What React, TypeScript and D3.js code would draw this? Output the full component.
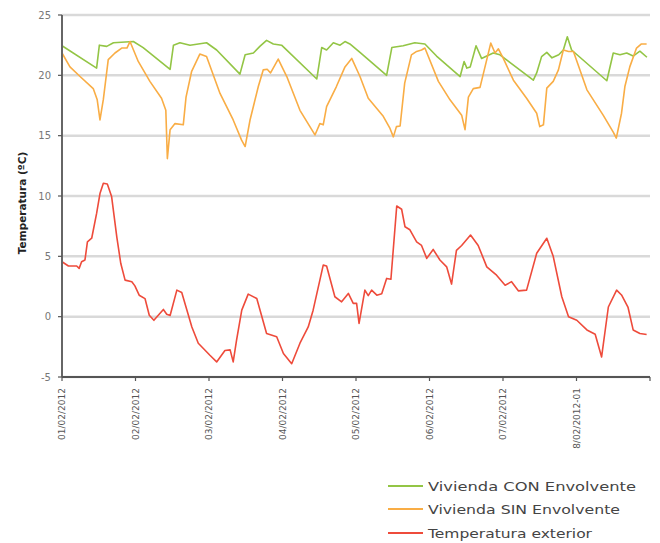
import React from "react";
import * as d3 from "d3";

// Hours since 01/02/2012 00:00 and temperatures (°C)
const conHours = [0, 11.3, 12.2, 14.6, 16.8, 23.3, 26.5, 35.3, 36.4, 38.5, 41.8, 47.2, 50.5, 58.1, 59.8, 62.5, 64.6, 66.8, 69.0, 71.7, 83.2, 84.8, 86.4, 88.6, 90.8, 92.4, 94.0, 97.3, 106.0, 107.7, 111.4, 115.2, 118.5, 122.3, 130.0, 131.3, 132.2, 133.3, 135.2, 137.0, 138.7, 140.8, 143.0, 153.9, 155.0, 156.6, 158.3, 160.0, 162.2, 163.7, 165.0, 166.4, 177.9, 180.0, 182.2, 184.4, 186.5, 188.7, 191];
const conValues = [22.45, 20.6, 22.5, 22.4, 22.7, 22.8, 22.3, 20.5, 22.5, 22.7, 22.5, 22.7, 22.1, 20.1, 21.7, 21.85, 22.4, 22.9, 22.6, 22.5, 19.7, 22.3, 22.1, 22.7, 22.5, 22.8, 22.6, 21.9, 20.0, 22.3, 22.45, 22.7, 22.6, 21.6, 19.9, 21.15, 20.6, 20.7, 22.45, 21.4, 21.6, 21.85, 21.7, 19.6, 20.2, 21.55, 21.9, 21.45, 21.7, 22.1, 23.2, 22.1, 19.55, 21.85, 21.7, 21.85, 21.6, 22.0, 21.5];

const sinHours = [0, 2.6, 5.9, 10.2, 11.5, 12.4, 13.5, 15.1, 17.3, 19.5, 21.2, 22.2, 24.9, 28.7, 32.5, 33.9, 34.4, 35.3, 36.9, 39.6, 40.5, 42.3, 45.0, 47.2, 51.6, 55.9, 58.6, 59.8, 61.4, 64.1, 65.7, 67.0, 68.1, 70.6, 73.4, 77.7, 82.6, 84.2, 85.3, 86.4, 89.6, 92.4, 94.6, 97.3, 100.0, 104.9, 107.1, 108.2, 109.2, 110.4, 111.9, 114.1, 115.8, 117.4, 118.5, 122.9, 126.7, 130.5, 131.6, 132.7, 134.3, 136.5, 138.7, 140.0, 141.4, 142.5, 144.1, 147.4, 151.7, 155.0, 156.0, 157.2, 158.3, 160.4, 162.1, 163.7, 165.4, 167.0, 171.4, 176.7, 180.0, 181.0, 182.7, 183.8, 185.4, 187.6, 189.2, 190.9];
const sinValues = [21.85, 20.7, 19.9, 18.9, 17.97, 16.3, 18.0, 21.3, 21.85, 22.26, 22.26, 22.8, 21.15, 19.5, 18.1, 17.1, 13.1, 15.5, 16.0, 15.9, 18.2, 20.3, 21.76, 21.56, 18.5, 16.3, 14.65, 14.1, 16.3, 19.07, 20.45, 20.5, 20.2, 21.35, 19.9, 17.1, 15.06, 16.0, 15.9, 17.4, 19.07, 20.7, 21.4, 19.9, 18.1, 16.6, 15.6, 14.9, 15.75, 15.8, 19.35, 21.7, 21.98, 22.1, 22.26, 19.5, 17.97, 16.7, 15.5, 18.2, 18.9, 19.0, 21.3, 22.67, 21.85, 22.2, 21.4, 19.6, 18.1, 16.86, 15.75, 15.9, 18.94, 19.5, 20.45, 22.1, 21.98, 21.98, 18.8, 16.7, 15.3, 14.8, 16.86, 19.07, 20.7, 22.26, 22.6, 22.6];

const extHours = [0, 2.1, 4.8, 5.6, 6.4, 7.5, 8.3, 9.7, 11.3, 12.4, 13.5, 14.8, 16.2, 17.9, 19.2, 20.6, 22.8, 23.8, 25.2, 27.1, 28.5, 30.0, 33.1, 34.2, 35.3, 37.5, 39.1, 42.4, 44.5, 48.3, 50.5, 53.2, 54.9, 55.9, 57.0, 58.7, 60.8, 63.6, 66.8, 70.1, 72.3, 75.0, 77.7, 80.4, 82.0, 85.3, 86.4, 89.1, 91.3, 93.5, 95.1, 96.2, 97.0, 98.9, 100.0, 101.1, 102.8, 104.4, 106.0, 107.4, 109.3, 110.9, 112.0, 113.6, 115.8, 117.4, 119.1, 121.2, 123.4, 125.6, 127.2, 128.8, 130.5, 133.4, 135.9, 138.7, 141.9, 144.7, 146.8, 149.0, 151.7, 155.0, 158.3, 160.4, 163.2, 165.4, 168.1, 171.4, 174.1, 176.2, 178.4, 181.1, 182.7, 184.8, 186.5, 188.7, 190.9];
const extValues = [4.55, 4.2, 4.2, 4.0, 4.55, 4.7, 6.2, 6.5, 8.56, 10.2, 11.05, 11.0, 9.95, 6.6, 4.4, 3.03, 2.9, 2.55, 1.78, 1.5, 0.12, -0.3, 0.6, 0.2, 0.1, 2.2, 2.0, -0.85, -2.2, -3.2, -3.75, -2.8, -2.75, -3.75, -1.95, 0.54, 1.87, 1.5, -1.4, -1.67, -3.05, -3.9, -2.2, -0.85, 0.54, 4.27, 4.2, 1.65, 1.23, 1.93, 1.1, 1.1, -0.56, 2.2, 1.75, 2.2, 1.78, 1.9, 3.17, 3.1, 9.17, 8.9, 7.45, 7.2, 6.2, 5.9, 4.83, 5.57, 4.7, 4.13, 2.7, 5.5, 5.9, 6.76, 5.9, 4.13, 3.44, 2.6, 2.9, 2.14, 2.2, 5.25, 6.5, 5.0, 1.65, 0.0, -0.3, -1.1, -1.45, -3.34, 0.8, 2.2, 1.8, 0.8, -1.1, -1.4, -1.48];

const dayTicks = [0, 24, 48, 72, 96, 120, 144, 168, 192];
const dayLabels = ["01/02/2012", "02/02/2012", "03/02/2012", "04/02/2012", "05/02/2012", "06/02/2012", "07/02/2012", "8/02/2012-01", ""];
const yTicks = [-5, 0, 5, 10, 15, 20, 25];

const seriesNames = ["Vivienda CON Envolvente", "Vivienda SIN Envolvente", "Temperatura exterior"];
const seriesColors = ["#93c545", "#f9ad45", "#ee4b3b"];

export default function App() {
  const x = d3.scaleLinear().domain([0, 192]).range([62, 650]);
  const y = d3.scaleLinear().domain([-5, 25]).range([377, 15]);
  const line = d3
    .line<[number, number]>()
    .x((d) => x(d[0]))
    .y((d) => y(d[1]));

  const series = [
    conHours.map((h, i) => [h, conValues[i]] as [number, number]),
    sinHours.map((h, i) => [h, sinValues[i]] as [number, number]),
    extHours.map((h, i) => [h, extValues[i]] as [number, number]),
  ];

  const font = "'DejaVu Sans', sans-serif";
  const legendY = [486, 509, 533];
  const legendLen = [208, 192, 164];

  return (
    <svg
      width={660}
      height={543}
      style={{ position: "absolute", left: 0, top: 0, background: "#fff" }}
    >
      {yTicks.map((t) => (
        <line key={"g" + t} x1={x(0)} x2={x(192)} y1={y(t)} y2={y(t)} stroke="#d9d9d9" strokeWidth={2.5} />
      ))}
      {series.map((s, i) => (
        <path key={i} d={line(s) || ""} fill="none" stroke={seriesColors[i]} strokeWidth={1.6} strokeLinejoin="round" />
      ))}
      <line x1={x(0)} x2={x(0)} y1={y(25)} y2={y(-5)} stroke="#666" strokeWidth={2} />
      <line x1={x(0)} x2={x(192)} y1={y(-5)} y2={y(-5)} stroke="#555" strokeWidth={2} />
      {yTicks.map((t) => (
        <g key={"y" + t}>
          <line x1={x(0) - 4} x2={x(0)} y1={y(t)} y2={y(t)} stroke="#555" strokeWidth={1.2} />
          <text x={51} y={y(t)} dy="0.35em" textAnchor="end" fontSize={10} fill="#777" fontFamily={font}>
            {t}
          </text>
        </g>
      ))}
      {dayTicks.map((t, i) => (
        <g key={"x" + t}>
          <line x1={x(t)} x2={x(t)} y1={y(-5)} y2={y(-5) + 4} stroke="#555" strokeWidth={1.2} />
          <text
            transform={`translate(${x(t)},${388}) rotate(-90)`}
            textAnchor="end"
            dy="0.35em"
            fontSize={9}
            fill="#555"
            fontFamily={font}
          >
            {dayLabels[i]}
          </text>
        </g>
      ))}
      <text
        transform={`translate(22,${203}) rotate(-90)`}
        textAnchor="middle"
        dy="0.35em"
        fontSize={10.5}
        fontWeight="bold"
        fill="#222"
        fontFamily={font}
      >
        Temperatura (ºC)
      </text>
      {seriesNames.map((n, i) => (
        <g key={"l" + i}>
          <line x1={388} x2={423} y1={legendY[i]} y2={legendY[i]} stroke={seriesColors[i]} strokeWidth={2.2} />
          <text
            x={428}
            y={legendY[i]}
            dy="0.35em"
            fontSize={13}
            fill="#444"
            fontFamily={font}
            textLength={legendLen[i]}
            lengthAdjust="spacingAndGlyphs"
          >
            {n}
          </text>
        </g>
      ))}
    </svg>
  );
}
